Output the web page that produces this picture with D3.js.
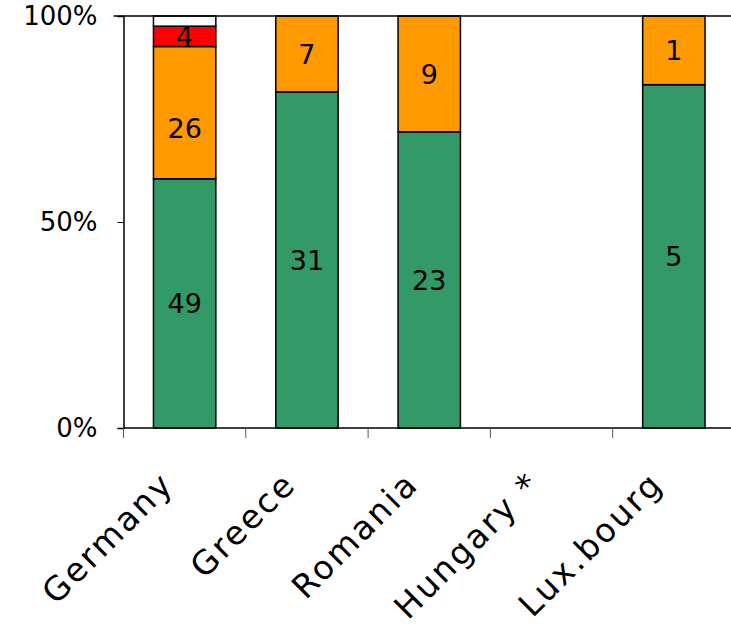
<!DOCTYPE html>
<html>
<head>
<meta charset="utf-8">
<script src="https://cdn.jsdelivr.net/npm/d3@7"></script>
<style>
  html, body { margin: 0; padding: 0; background: #fff; }
  svg { display: block; }
  text { font-family: "DejaVu Sans", Verdana, sans-serif; }
</style>
</head>
<body>
<svg id="chart" width="731" height="629"></svg>
<script>
// Categories and stacked counts (bottom to top)
const categories = ["Germany", "Greece", "Romania", "Hungary *", "Lux.bourg"];
const greenValues  = [49, 31, 23, 0, 5];
const orangeValues = [26, 7, 9, 0, 1];
const redValues    = [4, 0, 0, 0, 0];
const whiteValues  = [2, 0, 0, 0, 0];
const yTicks = [0, 0.5, 1];

const seriesKeys = ["green", "orange", "red", "white"];
const seriesColors = { green: "#339966", orange: "#FF9900", red: "#FF0000", white: "#FFFFFF" };
const seriesShowLabel = { green: true, orange: true, red: true, white: false };
// Vertical nudge (px) for labels that sit off the segment centre
const labelNudge = { "Germany|orange": 16 };

const rows = categories.map((c, i) => ({
  category: c,
  green: greenValues[i],
  orange: orangeValues[i],
  red: redValues[i],
  white: whiteValues[i]
}));

const svg = d3.select("#chart");
const margin = { left: 123.5, top: 16, right: -4, bottom: 201 };
const width = 731 - margin.left - margin.right;
const height = 629 - margin.top - margin.bottom;

const g = svg.append("g").attr("transform", `translate(${margin.left},${margin.top})`);

const x = d3.scaleBand().domain(categories).range([0, width]).paddingInner(0).paddingOuter(0);
const y = d3.scaleLinear().domain([0, 1]).range([height, 0]);

const stack = d3.stack().keys(seriesKeys).offset(d3.stackOffsetExpand);
const stacked = stack(rows);

const barW = x.bandwidth() * 0.51;

// Bars
stacked.forEach(layer => {
  const key = layer.key;
  layer.forEach((seg, i) => {
    const v = rows[i][key];
    if (!v || isNaN(seg[0]) || isNaN(seg[1])) return;
    const cx = x(rows[i].category) + x.bandwidth() / 2;
    const y0 = y(seg[0]), y1 = y(seg[1]);
    g.append("rect")
      .attr("x", cx - barW / 2)
      .attr("y", y1)
      .attr("width", barW)
      .attr("height", y0 - y1)
      .attr("fill", seriesColors[key])
      .attr("stroke", "#000")
      .attr("stroke-width", 1.5);
  });
});

// Value labels
stacked.forEach(layer => {
  const key = layer.key;
  if (!seriesShowLabel[key]) return;
  layer.forEach((seg, i) => {
    const v = rows[i][key];
    if (!v || isNaN(seg[0])) return;
    const cx = x(rows[i].category) + x.bandwidth() / 2;
    const nudge = labelNudge[rows[i].category + "|" + key] || 0;
    const ym = (y(seg[0]) + y(seg[1])) / 2 + nudge;
    g.append("text")
      .attr("x", cx)
      .attr("y", ym)
      .attr("dy", "0.36em")
      .attr("text-anchor", "middle")
      .attr("font-size", 27)
      .attr("fill", "#000")
      .text(v);
  });
});

// Top border of the plot area
g.append("line")
  .attr("x1", -10).attr("x2", width)
  .attr("y1", y(1)).attr("y2", y(1))
  .attr("stroke", "#000").attr("stroke-width", 1.5);

// Y axis
const yAxis = g.append("g")
  .call(d3.axisLeft(y).tickValues(yTicks).tickSize(6).tickPadding(20).tickFormat(d3.format(".0%")));
yAxis.select(".domain").attr("stroke", "#000").attr("stroke-width", 1.5);
yAxis.selectAll(".tick line").attr("stroke", "#000").attr("stroke-width", 1);
yAxis.selectAll(".tick text").attr("font-size", 26).attr("fill", "#000");

// X axis with ticks at category boundaries
const boundaries = categories.map(c => x(c)).concat([width]);
const xAxisG = g.append("g").attr("transform", `translate(0,${height})`);
xAxisG.append("line")
  .attr("x1", 0).attr("x2", width).attr("y1", 0).attr("y2", 0)
  .attr("stroke", "#000").attr("stroke-width", 1.5);
xAxisG.selectAll("line.bt").data(boundaries).enter().append("line")
  .attr("class", "bt")
  .attr("x1", d => d).attr("x2", d => d)
  .attr("y1", 0).attr("y2", 10)
  .attr("stroke", "#555").attr("stroke-width", 1);

// Rotated category labels
xAxisG.selectAll("text.cat").data(categories).enter().append("text")
  .attr("class", "cat")
  .attr("text-anchor", "end")
  .attr("font-size", 33)
  .attr("letter-spacing", 2.5)
  .attr("fill", "#000")
  .attr("transform", d => `translate(${x(d) + x.bandwidth() / 2 - 9},${58}) rotate(-45)`)
  .text(d => d);
</script>
</body>
</html>
